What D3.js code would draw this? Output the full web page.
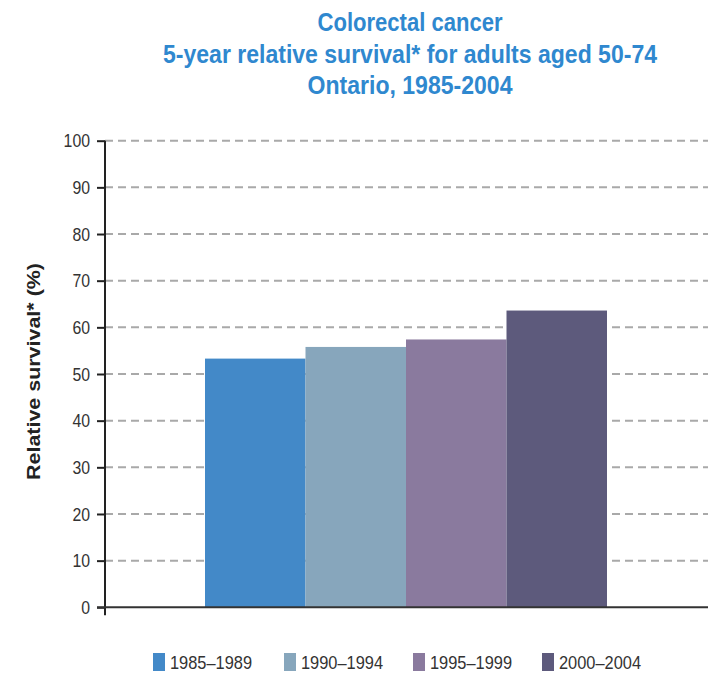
<!DOCTYPE html>
<html><head><meta charset="utf-8">
<script src="https://cdn.jsdelivr.net/npm/d3@7"></script>
<style>
body{margin:0;background:#fff;}
svg{display:block;}
text{font-family:"Liberation Sans",Arial,sans-serif;}
</style></head>
<body>
<svg id="chart" width="708" height="674"></svg>
<script>
const titleLines = ["Colorectal cancer","5-year relative survival* for adults aged 50-74","Ontario, 1985-2004"];
const periods = ["1985–1989","1990–1994","1995–1999","2000–2004"];
const survival = [53.3, 55.8, 57.4, 63.6];
const colors = ["#4389c8","#87a6bc","#8a7a9e","#5d5a7c"];
const yTicks = [0,10,20,30,40,50,60,70,80,90,100];
const yLabel = "Relative survival* (%)";

const svg = d3.select("#chart");
const m = {left:105, right:708, top:140.7, bottom:607.3};

const y = d3.scaleLinear().domain([0,100]).range([m.bottom, m.top]);
const x = d3.scaleBand().domain(periods).range([205, 607]).paddingInner(0).paddingOuter(0);

// title (condensed look via textLength)
const titleWidths = [185, 494, 205];
const titleBase = [30.5, 62.5, 93.5];
svg.append("g").selectAll("text").data(titleLines).join("text")
  .attr("x", 410).attr("y", (d,i)=>titleBase[i])
  .attr("text-anchor","middle")
  .attr("fill","#2f88cf")
  .attr("font-weight","bold")
  .attr("font-size", 25)
  .attr("textLength",(d,i)=>titleWidths[i])
  .attr("lengthAdjust","spacingAndGlyphs")
  .text(d=>d);

// gridlines
svg.append("g").selectAll("line").data(yTicks.filter(d=>d>0)).join("line")
  .attr("x1", m.left).attr("x2", m.right)
  .attr("y1", d=>y(d)).attr("y2", d=>y(d))
  .attr("stroke","#a9a9a9").attr("stroke-width",2)
  .attr("stroke-dasharray","8,5");

// bars
svg.append("g").selectAll("rect").data(periods).join("rect")
  .attr("x", d=>x(d)).attr("width", x.bandwidth())
  .attr("y", (d,i)=>y(survival[i]))
  .attr("height", (d,i)=>y(0)-y(survival[i]))
  .attr("fill", (d,i)=>colors[i]);

// y axis
const yAxis = d3.axisLeft(y).tickValues(yTicks).tickSize(8).tickPadding(7);
const gy = svg.append("g").attr("transform",`translate(${m.left},0)`).call(yAxis);
gy.select(".domain").remove();
gy.selectAll(".tick line").attr("stroke","#222").attr("stroke-width",2);
gy.selectAll(".tick text").attr("font-size",19).attr("fill","#333")
  .attr("font-family",'"Liberation Sans",Arial,sans-serif')
  .attr("textLength", d=>String(d).length*8.8)
  .attr("lengthAdjust","spacingAndGlyphs");
gy.append("line").attr("x1",0).attr("x2",0).attr("y1",m.top).attr("y2",m.bottom+8)
  .attr("stroke","#222").attr("stroke-width",2);

// x axis baseline
svg.append("line").attr("x1", m.left-8).attr("x2", m.right)
  .attr("y1", y(0)).attr("y2", y(0))
  .attr("stroke","#333").attr("stroke-width",2);

// y label
svg.append("text")
  .attr("transform",`translate(40,371.5) rotate(-90)`)
  .attr("text-anchor","middle")
  .attr("font-weight","bold").attr("font-size",19).attr("fill","#222")
  .attr("textLength",217).attr("lengthAdjust","spacingAndGlyphs")
  .text(yLabel);

// legend
const legX = [153, 284, 413, 542];
const lg = svg.append("g").selectAll("g").data(periods).join("g")
  .attr("transform",(d,i)=>`translate(${legX[i]},653)`);
lg.append("rect").attr("width",12).attr("height",18).attr("fill",(d,i)=>colors[i]);
lg.append("text").attr("x",17).attr("y",16).attr("font-size",19).attr("fill","#333")
  .attr("textLength",82).attr("lengthAdjust","spacingAndGlyphs")
  .text(d=>d);
</script>
</body></html>
